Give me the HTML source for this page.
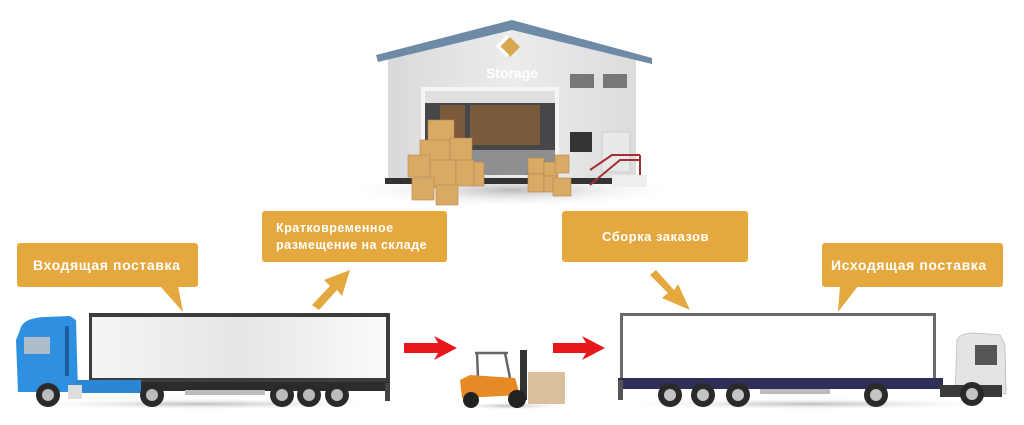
<!DOCTYPE html>
<html><head><meta charset="utf-8"><style>
html,body{margin:0;padding:0;background:#fff;}
body{width:1024px;height:425px;position:relative;overflow:hidden;font-family:"Liberation Sans",sans-serif;}
.t{position:absolute;color:#fff;font-size:13px;font-weight:bold;letter-spacing:0.5px;white-space:nowrap;}
</style></head><body>
<svg width="1024" height="425" viewBox="0 0 1024 425" style="position:absolute;left:0;top:0">
<defs>
<linearGradient id="wall" x1="0" y1="0" x2="1" y2="0"><stop offset="0" stop-color="#d8d9db"/><stop offset="0.5" stop-color="#ececec"/><stop offset="1" stop-color="#dcdcdc"/></linearGradient>
<linearGradient id="box" x1="0" y1="0" x2="1" y2="0"><stop offset="0" stop-color="#f4f4f4"/><stop offset="0.5" stop-color="#e6e6e6"/><stop offset="1" stop-color="#fafafa"/></linearGradient>
<radialGradient id="sh" cx="0.5" cy="0.5" r="0.5"><stop offset="0" stop-color="#bbb"/><stop offset="1" stop-color="#fff" stop-opacity="0"/></radialGradient>
</defs>
<!-- warehouse -->
<ellipse cx="512" cy="190" rx="170" ry="18" fill="url(#sh)"/>
<polygon points="388,58 512,28 636,58 636,180 388,180" fill="url(#wall)"/>
<polygon points="376,55 512,20 652,58 652,64 512,30 378,62" fill="#6f8aa6"/>
<rect x="385" y="178" width="255" height="6" fill="#333"/>
<rect x="421" y="87" width="138" height="88" fill="#f5f5f5"/>
<rect x="425" y="91" width="130" height="12" fill="#e0e0e0"/>
<rect x="425" y="103" width="130" height="70" fill="#45474a"/>
<rect x="470" y="105" width="70" height="40" fill="#7a5a3a"/>
<rect x="440" y="105" width="25" height="40" fill="#7a5a3a"/>
<rect x="425" y="150" width="130" height="25" fill="#8d8f91"/>
<polygon points="500,47 510,37 520,47 510,57" fill="#d7a850"/>
<path d="M508,36 L498,46 L508,56" stroke="#fff" stroke-width="3" fill="none"/>
<text x="512" y="78" text-anchor="middle" font-family="Liberation Sans" font-weight="bold" font-size="14" fill="#fff">Storage</text>
<rect x="570" y="74" width="24" height="14" fill="#777"/><rect x="603" y="74" width="24" height="14" fill="#777"/>
<rect x="570" y="132" width="22" height="20" fill="#333"/>
<rect x="602" y="132" width="28" height="40" fill="#e8e8e8" stroke="#ccc"/>
<path d="M590,185 L620,160 L640,160 M590,170 L612,155 L640,155 M640,155 V175" stroke="#a53030" stroke-width="2" fill="none"/>
<rect x="612" y="175" width="35" height="12" fill="#eee"/>
<g fill="#d9a966" stroke="#b8874a" stroke-width="0.6">
<rect x="428" y="120" width="26" height="22"/><rect x="420" y="140" width="30" height="22"/><rect x="450" y="138" width="22" height="24"/>
<rect x="408" y="155" width="22" height="22"/><rect x="430" y="160" width="26" height="28"/><rect x="456" y="160" width="18" height="26"/>
<rect x="412" y="178" width="22" height="22"/><rect x="436" y="185" width="22" height="20"/><rect x="474" y="162" width="10" height="24"/>
<rect x="528" y="158" width="16" height="16"/><rect x="544" y="162" width="14" height="14"/><rect x="555" y="155" width="14" height="18"/>
<rect x="528" y="174" width="16" height="18"/><rect x="544" y="176" width="14" height="16"/><rect x="553" y="178" width="18" height="18"/>
</g>
<!-- callouts -->
<g fill="#e5a83e">
<rect x="17" y="243" width="181" height="44" rx="3"/><polygon points="160,286 178,286 183,312"/>
<rect x="262" y="211" width="185" height="51" rx="3"/>
<rect x="562" y="211" width="186" height="51" rx="3"/>
<rect x="822" y="243" width="181" height="44" rx="3"/><polygon points="838,312 840,286 858,286"/>
<polygon points="312,305 330,286 324,280 350,270 342,296 337,290 319,310"/>
<polygon points="650,275 668,293 662,298 690,310 678,284 674,290 656,270"/>
</g>
<!-- red arrows -->
<polygon points="404,343 438,343 434,336 457,348 434,360 438,353 404,353" fill="#e8171b"/>
<polygon points="553,343 586,343 582,336 605,348 582,360 586,353 553,353" fill="#e8171b"/>
<!-- left truck -->
<ellipse cx="200" cy="404" rx="190" ry="6" fill="url(#sh)"/>
<rect x="89" y="313" width="301" height="70" fill="#3c3c3c"/>
<rect x="92" y="317" width="294" height="61" fill="url(#box)"/>
<rect x="89" y="382" width="300" height="9" fill="#2c2c2c"/>
<rect x="185" y="390" width="80" height="5" fill="#bbb"/>
<rect x="385" y="383" width="5" height="18" fill="#444"/>
<path d="M20,330 Q22,318 45,317 L70,316 L76,320 L78,392 L18,392 L16,340 Z" fill="#2f8fe0"/>
<rect x="76" y="380" width="65" height="13" fill="#2b86d6"/>
<rect x="24" y="337" width="26" height="17" fill="#aebccc"/>
<rect x="65" y="326" width="4" height="50" fill="#1b5fa0"/>
<rect x="68" y="385" width="14" height="14" fill="#ddd"/>
<g fill="#2a2a2a"><circle cx="48" cy="395" r="12"/><circle cx="152" cy="395" r="12"/><circle cx="282" cy="395" r="12"/><circle cx="309" cy="395" r="12"/><circle cx="337" cy="395" r="12"/></g>
<g fill="#bbb"><circle cx="48" cy="395" r="6"/><circle cx="152" cy="395" r="6"/><circle cx="282" cy="395" r="6"/><circle cx="309" cy="395" r="6"/><circle cx="337" cy="395" r="6"/></g>
<!-- forklift -->
<ellipse cx="510" cy="406" rx="60" ry="4" fill="url(#sh)"/>
<path d="M475,353 L508,353 M477,353 L478,378 M505,353 L510,378" stroke="#666" stroke-width="2.5" fill="none"/>
<path d="M460,380 L470,375 L515,378 L520,395 L462,398 Z" fill="#e58a25"/>
<rect x="520" y="350" width="7" height="50" fill="#333"/>
<rect x="528" y="372" width="37" height="32" fill="#d9c09a"/>
<circle cx="471" cy="400" r="8" fill="#222"/><circle cx="517" cy="399" r="9" fill="#222"/>
<!-- right truck -->
<ellipse cx="810" cy="404" rx="200" ry="6" fill="url(#sh)"/>
<rect x="620" y="313" width="316" height="67" fill="#6a6a6a"/>
<rect x="623" y="316" width="310" height="62" fill="#fff"/>
<rect x="618" y="378" width="325" height="11" fill="#2f2f5a"/>
<rect x="618" y="380" width="5" height="20" fill="#555"/>
<rect x="760" y="389" width="70" height="5" fill="#bbb"/>
<path d="M957,340 Q960,333 975,333 L1000,335 L1005,345 L1006,394 L955,394 Z" fill="#e4e4e6" stroke="#bbb" stroke-width="0.8"/>
<rect x="975" y="345" width="22" height="20" fill="#555"/>
<rect x="940" y="385" width="62" height="12" fill="#3a3a3a"/>
<g fill="#2a2a2a"><circle cx="670" cy="395" r="12"/><circle cx="703" cy="395" r="12"/><circle cx="738" cy="395" r="12"/><circle cx="876" cy="395" r="12"/><circle cx="972" cy="394" r="12"/></g>
<g fill="#c4c4c4"><circle cx="670" cy="395" r="6"/><circle cx="703" cy="395" r="6"/><circle cx="738" cy="395" r="6"/><circle cx="876" cy="395" r="6"/><circle cx="972" cy="394" r="6"/></g>
</svg>
<div class="t" style="left:33px;top:257px;font-size:14px;letter-spacing:0.6px">Входящая поставка</div>
<div class="t" style="left:276px;top:220px;line-height:17px;font-size:12.5px">Кратковременное<br>размещение на складе</div>
<div class="t" style="left:602px;top:229px">Сборка заказов</div>
<div class="t" style="left:831px;top:257px;font-size:14px;letter-spacing:0.6px">Исходящая поставка</div>
</body></html>
